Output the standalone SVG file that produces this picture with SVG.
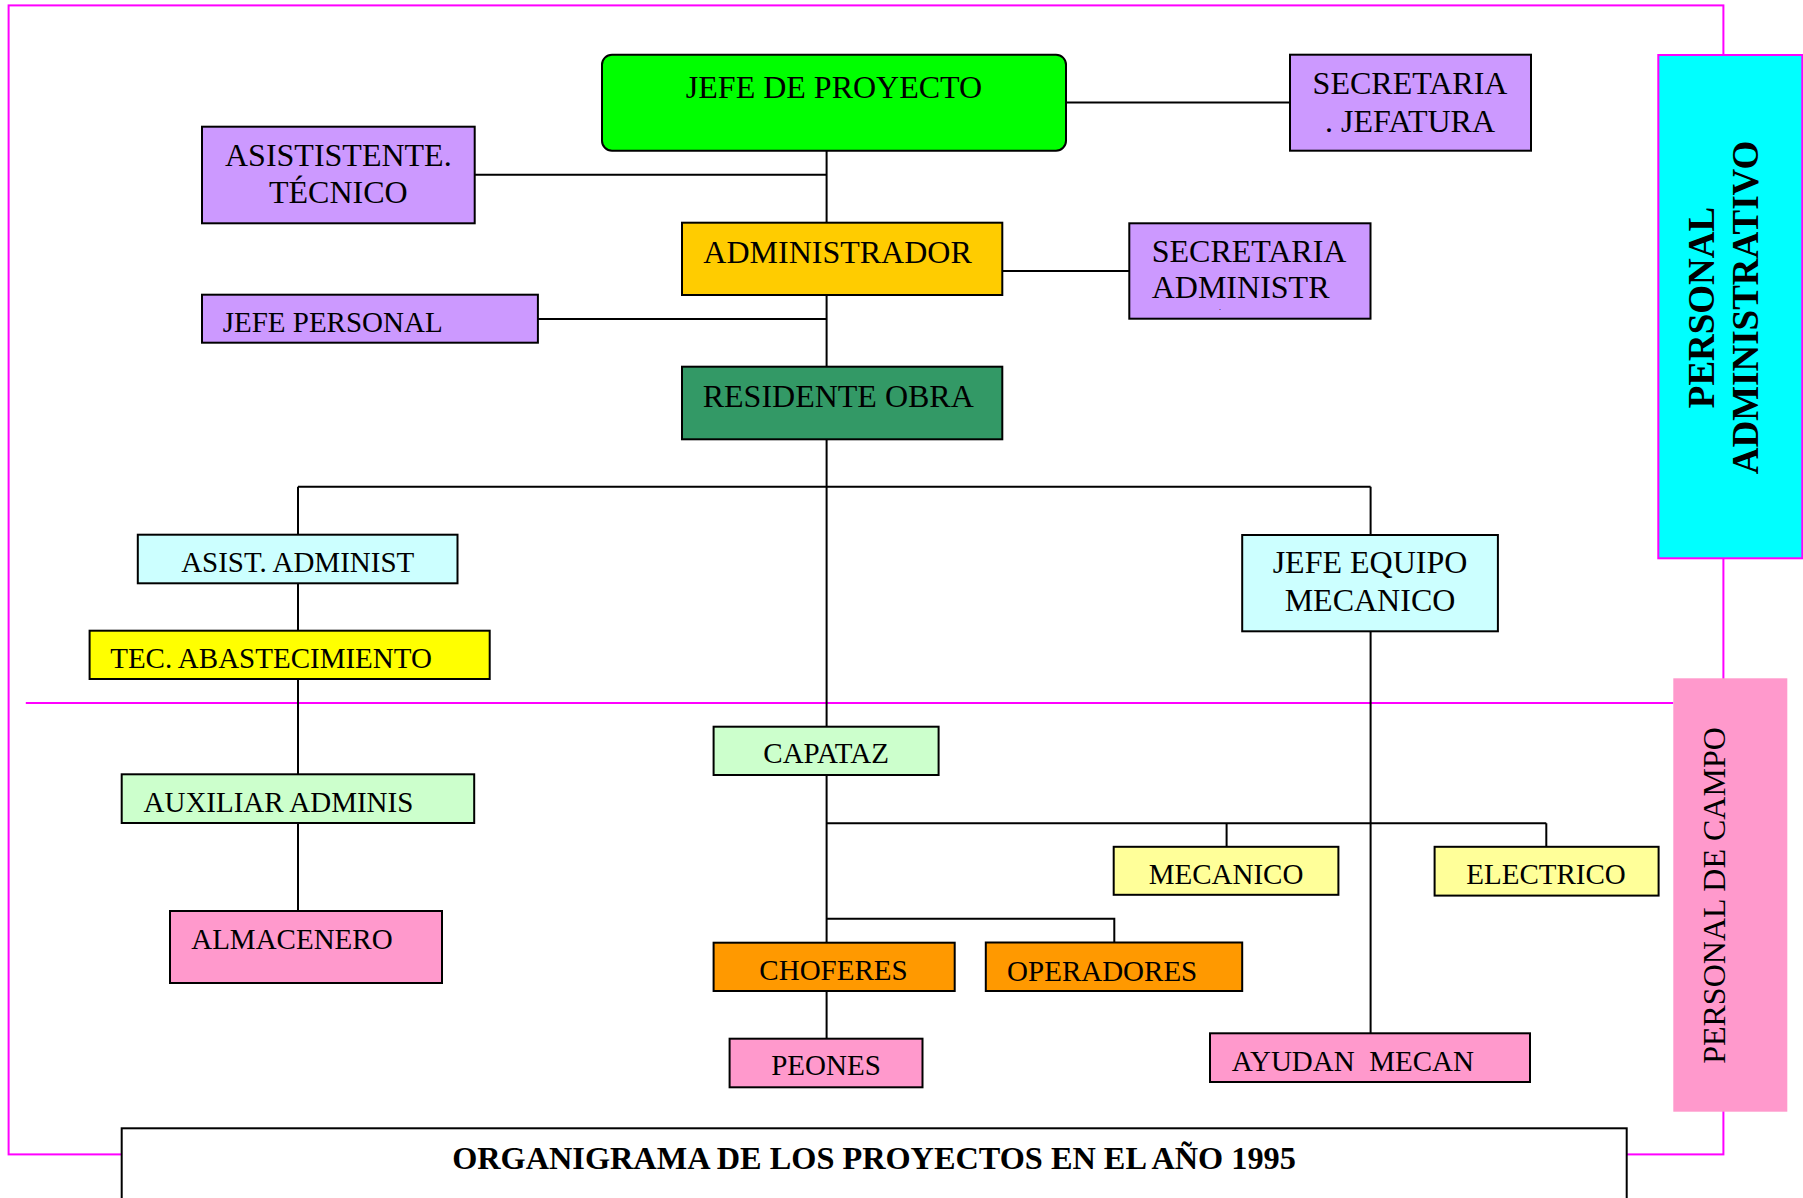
<svg xmlns="http://www.w3.org/2000/svg" width="1803" height="1198" viewBox="0 0 1803 1198">
<style>
.bx{stroke:#000;stroke-width:2}
.t{font-family:"Liberation Serif","Times New Roman",serif;fill:#000}
.s32{font-size:32px}
.s29{font-size:29px}
.m{text-anchor:middle}
.c{fill:none;stroke:#000;stroke-width:2}
.mg{fill:none;stroke:#FF00FF;stroke-width:2}
</style>
<rect width="1803" height="1198" fill="#fff"/>
<g id="frame">
<rect class="mg" x="8.6" y="5.4" width="1714.8" height="1149"/>
<line class="mg" x1="25.8" y1="703" x2="1673.3" y2="703"/>
</g>
<g id="connectors">
<path class="c" d="M826.6 150.7V222.7M474.7 174.7H826.6M1066 102.6H1290M1002.3 271H1129.3M826.6 295V366.7M537.9 319H826.6M826.6 439.3V726.7M298 486.7H1370.6M298 486.7V534.7M1370.6 486.7V535M298 583.3V630.7M298 679V774.3M298 823V919.3M1370.6 631.3V1033.3M826.6 775V942.7M826.6 823.2H1546.3M1226.6 823.2V846.8M1546.3 823.2V846.8M826.6 918.8H1114.3V942.5M826.6 991V1038.7"/>
</g>
<g id="n-jefe-proyecto">
<rect class="bx" x="602" y="54.7" width="464" height="96" rx="10" fill="#00FF00"/>
<text class="t s32 m" x="834" y="97.5">JEFE DE PROYECTO</text>
</g>
<g id="n-secretaria-jefatura">
<rect class="bx" x="1290" y="54.7" width="241" height="96" fill="#CC99FF"/>
<text class="t s32 m" x="1410" y="94.1">SECRETARIA</text>
<text class="t s32 m" x="1410" y="132">. JEFATURA</text>
</g>
<g id="n-asistente-tecnico">
<rect class="bx" x="202" y="126.7" width="272.7" height="96.6" fill="#CC99FF"/>
<text class="t s32 m" x="338.3" y="165.7">ASISTISTENTE.</text>
<text class="t s32 m" x="338.3" y="203.3">TÉCNICO</text>
</g>
<g id="n-administrador">
<rect class="bx" x="682" y="222.7" width="320.3" height="72.3" fill="#FFCC00"/>
<text class="t s32" x="703.3" y="262.7">ADMINISTRADOR</text>
</g>
<g id="n-secretaria-admin">
<rect class="bx" x="1129.3" y="223.3" width="241.2" height="95.4" fill="#CC99FF"/>
<text class="t s32" x="1151.7" y="262.3">SECRETARIA</text>
<text class="t s32" x="1151.7" y="298.3">ADMINISTR</text>
<text class="t" style="font-size:8px" x="1219" y="309.5">.</text>
</g>
<g id="n-jefe-personal">
<rect class="bx" x="202" y="294.7" width="335.9" height="48" fill="#CC99FF"/>
<text class="t s29" x="222.7" y="331.7">JEFE PERSONAL</text>
</g>
<g id="n-residente-obra">
<rect class="bx" x="682" y="366.7" width="320.3" height="72.6" fill="#339966"/>
<text class="t s32" x="702.7" y="407.3">RESIDENTE OBRA</text>
</g>
<g id="n-asist-administ">
<rect class="bx" x="137.8" y="534.7" width="319.7" height="48.6" fill="#CCFFFF"/>
<text class="t s29 m" x="297.7" y="571.7">ASIST. ADMINIST</text>
</g>
<g id="n-tec-abastecimiento">
<rect class="bx" x="89.6" y="630.7" width="400.1" height="48.3" fill="#FFFF00"/>
<text class="t s29" x="110.2" y="667.7">TEC. ABASTECIMIENTO</text>
</g>
<g id="n-jefe-equipo">
<rect class="bx" x="1242.2" y="535" width="255.7" height="96.3" fill="#CCFFFF"/>
<text class="t s32 m" x="1370" y="572.9">JEFE EQUIPO</text>
<text class="t s32 m" x="1370" y="610.5">MECANICO</text>
</g>
<g id="n-capataz">
<rect class="bx" x="713.6" y="726.7" width="225" height="48.3" fill="#CCFFCC"/>
<text class="t s29 m" x="826.1" y="763.3">CAPATAZ</text>
</g>
<g id="n-auxiliar">
<rect class="bx" x="121.7" y="774.3" width="352.5" height="48.7" fill="#CCFFCC"/>
<text class="t s29" x="143.5" y="811.7">AUXILIAR ADMINIS</text>
</g>
<g id="n-mecanico">
<rect class="bx" x="1113.7" y="846.8" width="224.7" height="48" fill="#FFFF99"/>
<text class="t s29 m" x="1226" y="884.1">MECANICO</text>
</g>
<g id="n-electrico">
<rect class="bx" x="1434.6" y="846.8" width="224" height="48.8" fill="#FFFF99"/>
<text class="t s29 m" x="1546" y="884.1">ELECTRICO</text>
</g>
<g id="n-almacenero">
<rect class="bx" x="170" y="911" width="272" height="72" fill="#FF99CC"/>
<text class="t s29" x="191.2" y="949">ALMACENERO</text>
</g>
<g id="n-choferes">
<rect class="bx" x="713.6" y="942.7" width="241.1" height="48.3" fill="#FF9900"/>
<text class="t s29 m" x="833.5" y="980.3">CHOFERES</text>
</g>
<g id="n-operadores">
<rect class="bx" x="985.8" y="942.5" width="256.4" height="48.5" fill="#FF9900"/>
<text class="t s29" x="1007.1" y="980.6">OPERADORES</text>
</g>
<g id="n-peones">
<rect class="bx" x="729.6" y="1038.7" width="192.9" height="48.6" fill="#FF99CC"/>
<text class="t s29 m" x="826" y="1075.3">PEONES</text>
</g>
<g id="n-ayudan-mecan">
<rect class="bx" x="1210" y="1033.3" width="320" height="48.7" fill="#FF99CC"/>
<text class="t s29" x="1231.7" y="1071" xml:space="preserve">AYUDAN  MECAN</text>
</g>
<g id="title">
<rect class="bx" x="121.7" y="1128.3" width="1505" height="90" fill="#fff"/>
<text class="t m" style="font-size:32.3px;font-weight:bold" x="874" y="1169">ORGANIGRAMA DE LOS PROYECTOS EN EL AÑO 1995</text>
</g>
<g id="personal-administrativo">
<rect x="1658.3" y="55" width="144" height="503.3" fill="#00FFFF" stroke="#FF00FF" stroke-width="2"/>
<text class="t m" style="font-size:37px;font-weight:bold" transform="translate(1714 307.5) rotate(-90) scale(1 1.05)" x="0" y="0">PERSONAL</text>
<text class="t m" style="font-size:37px;font-weight:bold" transform="translate(1758.3 307.5) rotate(-90) scale(1 1.05)" x="0" y="0">ADMINISTRATIVO</text>
</g>
<g id="personal-de-campo">
<rect x="1673.3" y="678.3" width="114" height="433.4" fill="#FF99CC"/>
<text class="t s32 m" transform="translate(1725 895.5) rotate(-90)" x="0" y="0">PERSONAL DE CAMPO</text>
</g>
</svg>
